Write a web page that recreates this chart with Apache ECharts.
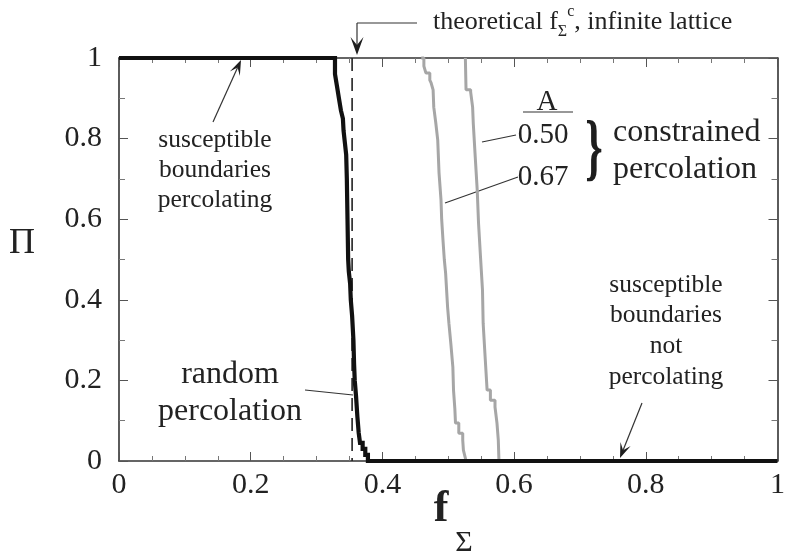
<!DOCTYPE html>
<html><head><meta charset="utf-8">
<script src="https://cdn.jsdelivr.net/npm/echarts@6/dist/echarts.min.js"></script>
<style>html,body{margin:0;padding:0;background:#fff}#c{width:788px;height:556px}</style>
</head><body><div id="c"></div>
<script>
// ---- data ----
const xTickLabels = ['0', '0.2', '0.4', '0.6', '0.8', '1'];
const yTickLabels = ['0', '0.2', '0.4', '0.6', '0.8', '1'];

// random percolation (step curve)
const randomF  = [0, 0.328, 0.331, 0.334, 0.337, 0.340, 0.341, 0.343, 0.345, 0.346, 0.347, 0.348, 0.349, 0.351, 0.352, 0.354, 0.356, 0.357, 0.358, 0.360, 0.362, 0.364, 0.366, 0.370, 0.374, 0.378, 1];
const randomPi = [1, 0.96, 0.93, 0.90, 0.87, 0.85, 0.82, 0.79, 0.76, 0.70, 0.60, 0.50, 0.47, 0.44, 0.40, 0.36, 0.30, 0.24, 0.20, 0.16, 0.11, 0.07, 0.045, 0.03, 0.015, 0, 0];

// constrained percolation, A = 0.67
const a067F  = [0.459, 0.463, 0.466, 0.472, 0.474, 0.477, 0.478, 0.481, 0.484, 0.486, 0.489, 0.490, 0.492, 0.494, 0.496, 0.499, 0.501, 0.504, 0.507, 0.508, 0.510, 0.511, 0.516, 0.522, 0.523, 0.526, 0.527];
const a067Pi = [1, 0.98, 0.963, 0.945, 0.938, 0.921, 0.878, 0.84, 0.797, 0.715, 0.648, 0.60, 0.548, 0.50, 0.466, 0.382, 0.342, 0.29, 0.233, 0.176, 0.13, 0.094, 0.069, 0.052, 0.027, 0.007, 0];

// constrained percolation, A = 0.50
const a050F  = [0.526, 0.527, 0.534, 0.537, 0.538, 0.541, 0.544, 0.546, 0.549, 0.552, 0.553, 0.556, 0.559, 0.564, 0.571, 0.574, 0.576, 0.577];
const a050Pi = [1, 0.921, 0.916, 0.878, 0.838, 0.754, 0.672, 0.590, 0.506, 0.424, 0.342, 0.258, 0.176, 0.151, 0.134, 0.094, 0.052, 0];

// theoretical threshold, infinite lattice
const thresholdF = 0.354;
const thresholdPi = [1, 0];

// ---- chart ----
const FONT = "'Liberation Serif', 'Times New Roman', serif";
const TXT = '#222';
const zip = (a, b) => a.map((v, i) => [v, b[i]]);

const axisBase = {
  type: 'value', min: 0, max: 1, interval: 0.2,
  axisLine: { show: true, onZero: false, lineStyle: { color: '#333', width: 1.6 } },
  axisTick: { show: true, inside: true, length: 9, lineStyle: { color: '#555', width: 1 } },
  splitLine: { show: false }, minorSplitLine: { show: false }
};

const chart = echarts.init(document.getElementById('c'), null, { renderer: 'canvas' });

chart.setOption({
  animation: false,
  backgroundColor: '#fff',
  grid: { left: 119, right: 2, top: 58, bottom: 95, containLabel: false },
  xAxis: [
    Object.assign({}, axisBase, {
      position: 'bottom',
      minorTick: { show: true, splitNumber: 4, length: 5, lineStyle: { color: '#777', width: 1 } },
      axisLabel: { show: true, margin: 9, fontFamily: FONT, fontSize: 30, color: TXT,
        formatter: v => xTickLabels[Math.round(v / 0.2)] }
    }),
    Object.assign({}, axisBase, {
      position: 'top',
      minorTick: { show: true, splitNumber: 4, length: 5, lineStyle: { color: '#777', width: 1 } },
      axisLabel: { show: false }
    })
  ],
  yAxis: [
    Object.assign({}, axisBase, {
      position: 'left',
      minorTick: { show: true, splitNumber: 2, length: 6, lineStyle: { color: '#777', width: 1 } },
      axisLabel: { show: true, margin: 17, fontFamily: FONT, fontSize: 30, color: TXT,
        formatter: v => yTickLabels[Math.round(v / 0.2)] }
    }),
    Object.assign({}, axisBase, {
      position: 'right',
      minorTick: { show: true, splitNumber: 2, length: 6, lineStyle: { color: '#777', width: 1 } },
      axisLabel: { show: false }
    })
  ],
  series: [
    { name: 'A=0.67', type: 'line', xAxisIndex: 0, yAxisIndex: 0, data: zip(a067F, a067Pi), step: 'end',
      symbol: 'none', clip: false, z: 2, lineStyle: { color: '#a6a6a6', width: 3 } },
    { name: 'A=0.50', type: 'line', xAxisIndex: 0, yAxisIndex: 0, data: zip(a050F, a050Pi), step: 'end',
      symbol: 'none', clip: false, z: 2, lineStyle: { color: '#a6a6a6', width: 3 } },
    { name: 'theoretical', type: 'line', xAxisIndex: 0, yAxisIndex: 0,
      data: thresholdPi.map(p => [thresholdF, p]),
      symbol: 'none', clip: false, z: 3, lineStyle: { color: '#222', width: 1.6, type: [13, 7] } },
    { name: 'random percolation', type: 'line', xAxisIndex: 0, yAxisIndex: 0, data: zip(randomF, randomPi), step: 'end',
      symbol: 'none', clip: false, z: 5, lineStyle: { color: '#111', width: 4.2, join: 'miter' } }
  ]
});

// ---- annotations ----
function arrow(x1, y1, x2, y2, head, hw) {
  const dx = x2 - x1, dy = y2 - y1, L = Math.hypot(dx, dy), ux = dx / L, uy = dy / L;
  const bx = x2 - ux * head, by = y2 - uy * head;
  const nx = x2 - ux * head * 0.55, ny = y2 - uy * head * 0.55;
  return [
    { type: 'line', shape: { x1: x1, y1: y1, x2: nx, y2: ny }, style: { stroke: '#333', lineWidth: 1.2 } },
    { type: 'polygon', shape: { points: [[x2, y2], [bx - uy * hw, by + ux * hw], [nx, ny], [bx + uy * hw, by - ux * hw]] },
      style: { fill: '#1e1e1e' } }
  ];
}
function seg(x1, y1, x2, y2) {
  return { type: 'line', shape: { x1: x1, y1: y1, x2: x2, y2: y2 }, style: { stroke: '#333', lineWidth: 1.2 } };
}
function txt(t, x, y, size, opts) {
  return { type: 'text', x: x, y: y, style: Object.assign({
    text: t, font: size + 'px ' + FONT, fill: TXT, align: 'center', verticalAlign: 'middle', lineHeight: Math.round(size * 1.2)
  }, opts || {}) };
}

const g = [];
// top annotation
g.push(seg(417, 23, 357, 23));
g.push(...arrow(357, 23, 357, 55, 18, 6.5));
g.push({ type: 'text', x: 433, y: 22, style: {
  text: '{a|theoretical f}{sub|Σ}{sup|c}{a|, infinite lattice}',
  verticalAlign: 'middle', align: 'left',
  rich: {
    a: { font: '26px ' + FONT, fill: TXT, lineHeight: 36 },
    sub: { font: '16px ' + FONT, fill: TXT, lineHeight: 16, verticalAlign: 'bottom' },
    sup: { font: '16px ' + FONT, fill: TXT, lineHeight: 16, verticalAlign: 'top' }
  }
}});
// susceptible boundaries percolating
g.push(...arrow(213, 122, 241, 60, 15, 5.5));
g.push(txt('susceptible\nboundaries\npercolating', 215, 170, 25.5, { lineHeight: 30 }));
// not percolating
g.push(...arrow(642, 403, 620, 458, 15, 5.5));
g.push(txt('susceptible\nboundaries\nnot\npercolating', 666, 331, 25.5, { lineHeight: 30.7 }));
// random percolation
g.push(txt('random\npercolation', 230, 393, 32, { lineHeight: 37 }));
g.push(seg(305, 390, 353, 395));
// constrained legend
g.push(txt('A', 547, 102, 29));
g.push({ type: 'line', shape: { x1: 523, y1: 112, x2: 573, y2: 112 }, style: { stroke: '#333', lineWidth: 1.2 } });
g.push(txt('0.50', 543, 135, 29));
g.push(txt('0.67', 543, 177, 29));
g.push(seg(516, 135, 482, 142));
g.push(seg(518, 177, 445, 203));
const brace = txt('}', 0, 0, 74, { font: 'bold 74px ' + FONT, lineHeight: 80, fill: '#1e1e1e' });
brace.x = 594; brace.y = 153; brace.scaleX = 0.6;
g.push(brace);
g.push(txt('constrained\npercolation', 613, 151, 32, { align: 'left', lineHeight: 37 }));
// axis titles
g.push(txt('Π', 22, 244, 36));
g.push(txt('f', 441, 510, 44, { font: 'bold 44px ' + FONT }));
g.push(txt('Σ', 464, 543, 30));

chart.setOption({ graphic: { elements: g } });
</script>
</body></html>
